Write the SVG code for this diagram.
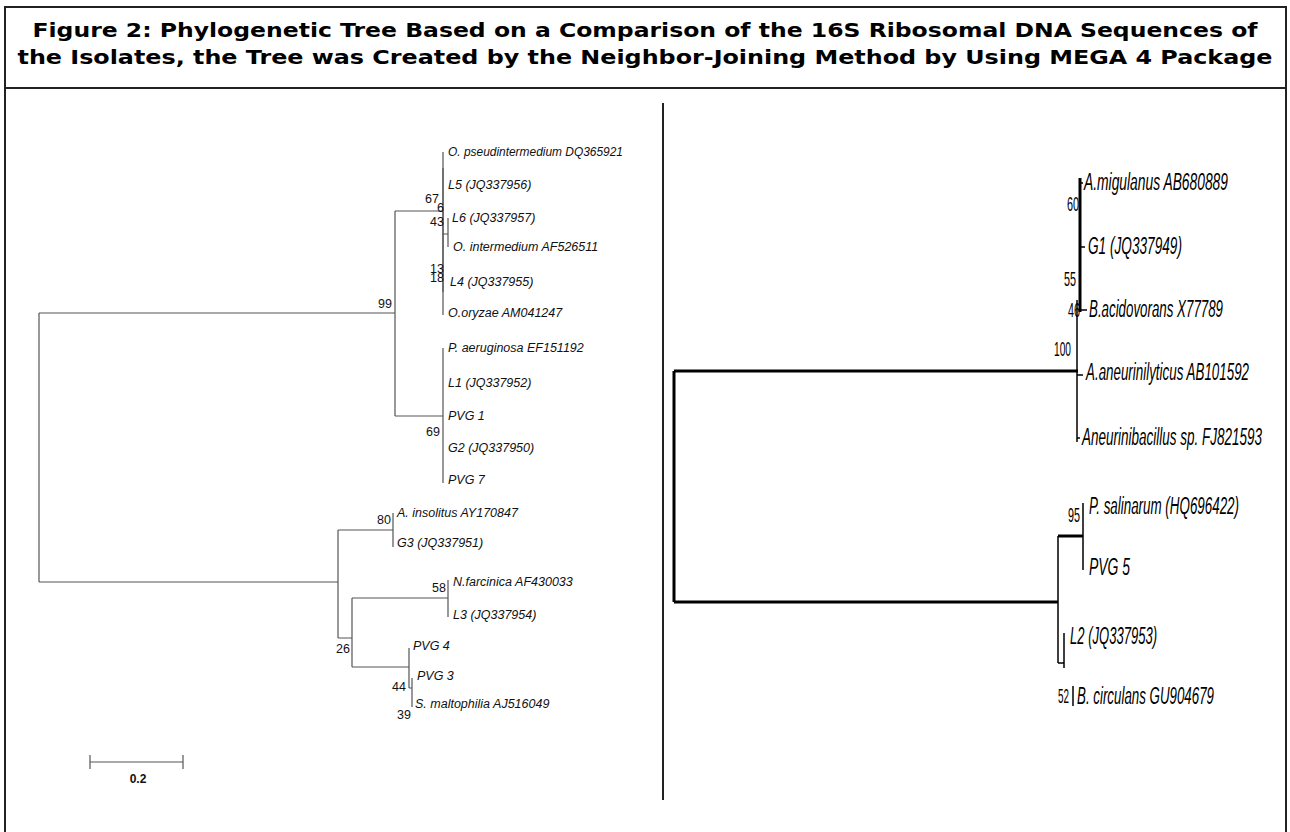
<svg xmlns="http://www.w3.org/2000/svg" width="1290" height="832" viewBox="0 0 1290 832">
<style>
.title{font-family:"DejaVu Sans","Liberation Sans",sans-serif;font-weight:bold;font-size:20px;fill:#000}
.lt{font-family:"Liberation Sans",Arial,sans-serif;font-style:italic;font-size:12.5px;fill:#111}
.lb{font-family:"Liberation Sans",Arial,sans-serif;font-size:12.5px;fill:#111;text-anchor:end}
.rt{font-family:"Liberation Sans",Arial,sans-serif;font-style:italic;font-size:23px;fill:#000}
.rb{font-family:"Liberation Sans",Arial,sans-serif;font-size:21px;fill:#000;text-anchor:end}
.le{stroke:#555;stroke-width:1.2;fill:none}
.re{stroke:#000;stroke-width:3;fill:none}
.rn{stroke:#000;stroke-width:1.5;fill:none}
.frame{stroke:#222;stroke-width:2;fill:none}
</style>
<rect width="1290" height="832" fill="#fff"/>
<g id="frame">
<rect class="frame" x="5" y="7" width="1281" height="840"/>
<line class="frame" x1="5" y1="88" x2="1286" y2="88"/>
<line class="frame" x1="663" y1="103" x2="663" y2="800"/>
</g>
<g id="title">
<text class="title" x="645" y="37" text-anchor="middle" textLength="1225" lengthAdjust="spacingAndGlyphs">Figure 2: Phylogenetic Tree Based on a Comparison of the 16S Ribosomal DNA Sequences of</text>
<text class="title" x="645" y="64" text-anchor="middle" textLength="1255" lengthAdjust="spacingAndGlyphs">the Isolates, the Tree was Created by the Neighbor-Joining Method by Using MEGA 4 Package</text>
</g>
<g id="connectors">
<g id="left-edges">
<path class="le" d="M39,313V582M39,313H395M39,582H338M395,211V416M395,211H443M395,416H443M443,152V315M443,234H448M448,218V247M443,348V483M338,530V638M338,530H393M393,513V547M338,638H352M352,598V667M352,598H448M448,580V617M352,667H409M409,648V688M409,688H412M412,678V707"/>
<path class="le" stroke-width="2.6" d="M443,168V292"/>
</g>
<g id="right-edges">
<path class="re" d="M674,371V602M674,371H1078M674,602H1058M1080,178V312M1058,536H1083"/>
<path class="rn" d="M1077,300V442M1080,183H1083M1080,247H1085M1080,310H1087M1077,375H1083M1077,438H1080"/>
<path class="rn" stroke-width="2.2" d="M1058,536V663M1083,503V570M1058,663H1064M1064,633V668"/>
<path class="rn" d="M1073,686V706"/>
</g>
<g id="scale-bar">
<path class="le" d="M90,762H183M90,755V769M183,755V769"/>
</g>
</g>
<g id="left-tree">
<g id="n-opseud"><text class="lt" x="448" y="156" textLength="175" lengthAdjust="spacingAndGlyphs">O. pseudintermedium DQ365921</text></g>
<g id="n-l5"><text class="lt" x="448" y="189">L5 (JQ337956)</text></g>
<g id="n-l6"><text class="lt" x="452" y="222">L6 (JQ337957)</text></g>
<g id="n-ointer"><text class="lt" x="453" y="251">O. intermedium AF526511</text></g>
<g id="n-l4"><text class="lt" x="450" y="286">L4 (JQ337955)</text></g>
<g id="n-oory"><text class="lt" x="448" y="317">O.oryzae AM041247</text></g>
<g id="n-paer"><text class="lt" x="448" y="352">P. aeruginosa EF151192</text></g>
<g id="n-l1"><text class="lt" x="448" y="387">L1 (JQ337952)</text></g>
<g id="n-pvg1"><text class="lt" x="448" y="420">PVG 1</text></g>
<g id="n-g2"><text class="lt" x="448" y="452">G2 (JQ337950)</text></g>
<g id="n-pvg7"><text class="lt" x="448" y="484">PVG 7</text></g>
<g id="n-ainsol"><text class="lt" x="397" y="517">A. insolitus AY170847</text></g>
<g id="n-g3"><text class="lt" x="397" y="547">G3 (JQ337951)</text></g>
<g id="n-nfarc"><text class="lt" x="453" y="586">N.farcinica AF430033</text></g>
<g id="n-l3"><text class="lt" x="453" y="619">L3 (JQ337954)</text></g>
<g id="n-pvg4"><text class="lt" x="413" y="650">PVG 4</text></g>
<g id="n-pvg3"><text class="lt" x="417" y="680">PVG 3</text></g>
<g id="n-smalt"><text class="lt" x="415" y="708">S. maltophilia AJ516049</text></g>
<g id="left-bootstrap">
<text class="lb" x="392" y="308">99</text>
<text class="lb" x="439" y="203">67</text>
<text class="lb" x="444" y="212">6</text>
<text class="lb" x="444" y="226">43</text>
<text class="lb" x="444" y="273">13</text>
<text class="lb" x="444" y="282">18</text>
<text class="lb" x="440" y="436">69</text>
<text class="lb" x="391" y="524">80</text>
<text class="lb" x="446" y="592">58</text>
<text class="lb" x="350" y="653">26</text>
<text class="lb" x="406" y="691">44</text>
<text class="lb" x="411" y="719">39</text>
</g>
<g id="scale-label"><text x="138" y="783" text-anchor="middle" font-family="Liberation Sans, Arial, sans-serif" font-size="12" font-weight="bold" fill="#111">0.2</text></g>
</g>
<g id="right-tree">
<g id="r-amig"><text class="rt" x="1084" y="190" textLength="144" lengthAdjust="spacingAndGlyphs">A.migulanus AB680889</text></g>
<g id="r-g1"><text class="rt" x="1088" y="254" textLength="94" lengthAdjust="spacingAndGlyphs">G1 (JQ337949)</text></g>
<g id="r-bacid"><text class="rt" x="1089" y="317" textLength="134" lengthAdjust="spacingAndGlyphs">B.acidovorans X77789</text></g>
<g id="r-aaneu"><text class="rt" x="1086" y="380" textLength="163" lengthAdjust="spacingAndGlyphs">A.aneurinilyticus AB101592</text></g>
<g id="r-aneusp"><text class="rt" x="1082" y="445" textLength="180" lengthAdjust="spacingAndGlyphs">Aneurinibacillus sp. FJ821593</text></g>
<g id="r-psal"><text class="rt" x="1089" y="514" textLength="150" lengthAdjust="spacingAndGlyphs">P. salinarum (HQ696422)</text></g>
<g id="r-pvg5"><text class="rt" x="1089" y="575" textLength="41" lengthAdjust="spacingAndGlyphs">PVG 5</text></g>
<g id="r-l2"><text class="rt" x="1070" y="644" textLength="87" lengthAdjust="spacingAndGlyphs">L2 (JQ337953)</text></g>
<g id="r-bcirc"><text class="rt" x="1077" y="704" textLength="137" lengthAdjust="spacingAndGlyphs">B. circulans GU904679</text></g>
<g id="right-bootstrap">
<text class="rb" x="1079" y="211" textLength="12" lengthAdjust="spacingAndGlyphs">60</text>
<text class="rb" x="1076" y="286" textLength="12" lengthAdjust="spacingAndGlyphs">55</text>
<text class="rb" x="1080" y="317" textLength="12" lengthAdjust="spacingAndGlyphs">46</text>
<text class="rb" x="1071" y="356" textLength="17" lengthAdjust="spacingAndGlyphs">100</text>
<text class="rb" x="1080" y="522" textLength="12" lengthAdjust="spacingAndGlyphs">95</text>
<text class="rb" x="1069" y="703" textLength="11" lengthAdjust="spacingAndGlyphs">52</text>
</g>
</g>
</svg>
